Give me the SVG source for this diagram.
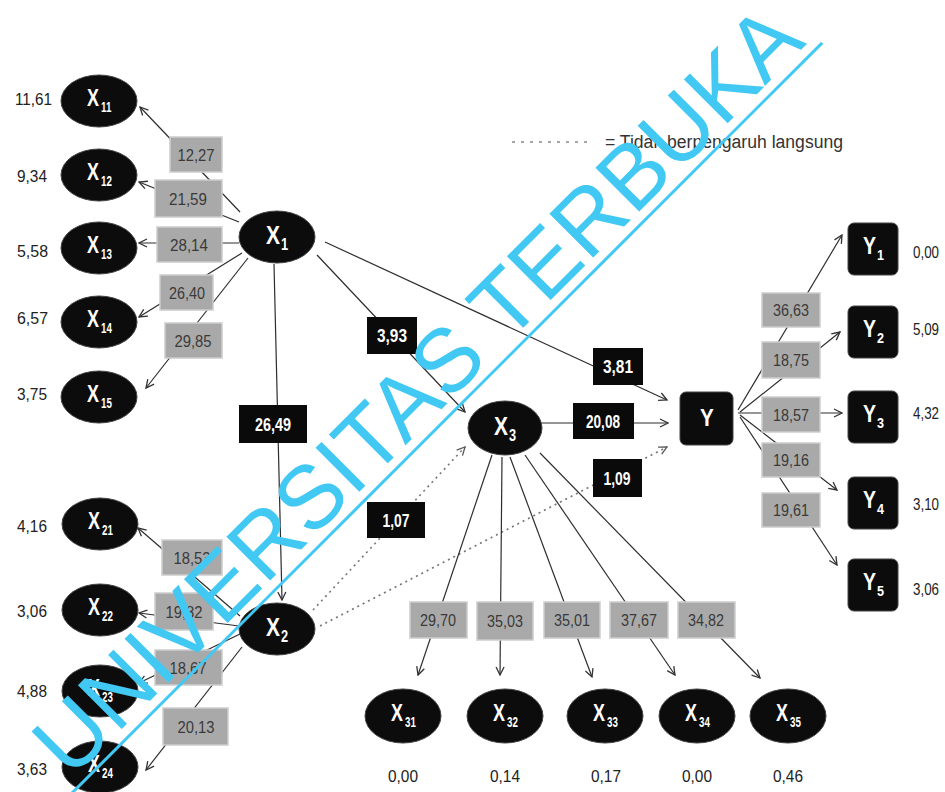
<svg xmlns="http://www.w3.org/2000/svg" width="945" height="792" viewBox="0 0 945 792">
  <defs>
    <marker id="arr" viewBox="0 0 10 10" refX="9" refY="5" markerWidth="10" markerHeight="10" markerUnits="userSpaceOnUse" orient="auto">
      <path d="M1,1 L9,5 L1,9" fill="none" stroke="#333" stroke-width="1.3"/>
    </marker>
    <marker id="arrd" viewBox="0 0 10 10" refX="9" refY="5" markerWidth="10" markerHeight="10" markerUnits="userSpaceOnUse" orient="auto">
      <path d="M1,1 L9,5 L1,9" fill="none" stroke="#555" stroke-width="1.3"/>
    </marker>
    <style>
      .edge { stroke: #2e2e2e; stroke-width: 1.2; fill: none; marker-end: url(#arr); }
      .dot { stroke: #777; stroke-width: 1.6; fill: none; stroke-dasharray: 2 4; marker-end: url(#arrd); }
      .ell { fill: #0c0c0c; stroke: #444; stroke-width: 1; }
      .sq { fill: #0c0c0c; stroke: #444; stroke-width: 1; }
      text { font-family: "Liberation Sans", Arial, sans-serif; }
      .nm { font-weight: bold; fill: #fff; font-size: 23px; }
      .nb { font-weight: bold; fill: #fff; font-size: 25px; }
      .sb { font-weight: bold; fill: #fff; font-size: 14px; }
      .sl { font-weight: bold; fill: #fff; font-size: 16px; }
      .val { font-size: 16px; fill: #222; }
      .gb { fill: #a9a9a9; stroke: #cdcdcd; stroke-width: 1.5; }
      .gt { font-size: 17px; fill: #3a3a3a; text-anchor: middle; }
      .bb { fill: #0a0a0a; }
      .bt { font-size: 19px; font-weight: bold; fill: #fff; text-anchor: middle; }
      .leg { font-size: 18px; fill: #333; }
      .wm { font-size: 90px; fill: #41c9f4; text-anchor: middle; }
    </style>
  </defs>
  <rect width="945" height="792" fill="#fff"/>

  <!-- legend -->
  <g id="legend">
    <line x1="512" y1="142" x2="590" y2="142" stroke="#888" stroke-width="1.5" stroke-dasharray="3 6"/>
    <text class="leg" x="605" y="148" textLength="238" lengthAdjust="spacingAndGlyphs">= Tidak berpengaruh langsung</text>
  </g>

  <!-- connectors -->
  <g id="connectors">
    <line class="edge" x1="240" y1="212" x2="140" y2="107"/>
    <line class="edge" x1="239" y1="222" x2="139" y2="182"/>
    <line class="edge" x1="239" y1="243" x2="139" y2="243"/>
    <line class="edge" x1="242" y1="253" x2="139" y2="317"/>
    <line class="edge" x1="248" y1="258" x2="146" y2="388"/>
    <line class="edge" x1="274" y1="264" x2="282" y2="600"/>
    <line class="edge" x1="317" y1="255" x2="465" y2="412"/>
    <line class="edge" x1="325" y1="242" x2="667" y2="400"/>
    <line class="edge" x1="240" y1="616" x2="138" y2="528"/>
    <line class="edge" x1="239" y1="626" x2="139" y2="613"/>
    <line class="edge" x1="240" y1="634" x2="139" y2="683"/>
    <line class="edge" x1="242" y1="647" x2="146" y2="770"/>
    <line class="dot" x1="313" y1="610" x2="465" y2="447"/>
    <line class="dot" x1="320" y1="626" x2="667" y2="447"/>
    <line class="edge" x1="542" y1="423" x2="668" y2="423"/>
    <line class="edge" x1="492" y1="455" x2="418" y2="675"/>
    <line class="edge" x1="502" y1="457" x2="500" y2="675"/>
    <line class="edge" x1="510" y1="457" x2="592" y2="677"/>
    <line class="edge" x1="525" y1="455" x2="675" y2="675"/>
    <line class="edge" x1="540" y1="453" x2="760" y2="678"/>
    <line class="edge" x1="738" y1="410" x2="842" y2="235"/>
    <line class="edge" x1="740" y1="412" x2="840" y2="332"/>
    <line class="edge" x1="738" y1="413" x2="842" y2="413"/>
    <line class="edge" x1="740" y1="415" x2="837" y2="490"/>
    <line class="edge" x1="740" y1="417" x2="837" y2="565"/>
  </g>

  <!-- loading labels (grey) -->
  <g id="loadings">
    <rect class="gb" x="170" y="137" width="52" height="35"/><text class="gt" x="196" y="161" textLength="37" lengthAdjust="spacingAndGlyphs">12,27</text>
    <rect class="gb" x="155" y="180" width="67" height="37"/><text class="gt" x="188" y="205" textLength="38" lengthAdjust="spacingAndGlyphs">21,59</text>
    <rect class="gb" x="157" y="227" width="65" height="35"/><text class="gt" x="189" y="251" textLength="38" lengthAdjust="spacingAndGlyphs">28,14</text>
    <rect class="gb" x="160" y="275" width="53" height="35"/><text class="gt" x="187" y="299" textLength="36" lengthAdjust="spacingAndGlyphs">26,40</text>
    <rect class="gb" x="165" y="323" width="57" height="35"/><text class="gt" x="193" y="347" textLength="37" lengthAdjust="spacingAndGlyphs">29,85</text>
    <rect class="gb" x="162" y="540" width="60" height="35"/><text class="gt" x="192" y="564" textLength="37" lengthAdjust="spacingAndGlyphs">18,53</text>
    <rect class="gb" x="155" y="593" width="58" height="37"/><text class="gt" x="184" y="618" textLength="37" lengthAdjust="spacingAndGlyphs">19,82</text>
    <rect class="gb" x="155" y="650" width="67" height="35"/><text class="gt" x="188" y="674" textLength="37" lengthAdjust="spacingAndGlyphs">18,67</text>
    <rect class="gb" x="163" y="708" width="65" height="37"/><text class="gt" x="196" y="733" textLength="37" lengthAdjust="spacingAndGlyphs">20,13</text>
    <rect class="gb" x="410" y="602" width="57" height="36"/><text class="gt" x="438" y="626" textLength="36" lengthAdjust="spacingAndGlyphs">29,70</text>
    <rect class="gb" x="477" y="602" width="56" height="38"/><text class="gt" x="505" y="627" textLength="36" lengthAdjust="spacingAndGlyphs">35,03</text>
    <rect class="gb" x="544" y="602" width="56" height="36"/><text class="gt" x="572" y="626" textLength="36" lengthAdjust="spacingAndGlyphs">35,01</text>
    <rect class="gb" x="610" y="602" width="58" height="36"/><text class="gt" x="639" y="626" textLength="36" lengthAdjust="spacingAndGlyphs">37,67</text>
    <rect class="gb" x="678" y="602" width="57" height="36"/><text class="gt" x="706" y="626" textLength="36" lengthAdjust="spacingAndGlyphs">34,82</text>
    <rect class="gb" x="762" y="293" width="58" height="34"/><text class="gt" x="791" y="316" textLength="36" lengthAdjust="spacingAndGlyphs">36,63</text>
    <rect class="gb" x="762" y="342" width="58" height="36"/><text class="gt" x="791" y="366" textLength="36" lengthAdjust="spacingAndGlyphs">18,75</text>
    <rect class="gb" x="762" y="397" width="58" height="35"/><text class="gt" x="791" y="421" textLength="36" lengthAdjust="spacingAndGlyphs">18,57</text>
    <rect class="gb" x="762" y="443" width="58" height="34"/><text class="gt" x="791" y="466" textLength="36" lengthAdjust="spacingAndGlyphs">19,16</text>
    <rect class="gb" x="762" y="493" width="58" height="34"/><text class="gt" x="791" y="516" textLength="36" lengthAdjust="spacingAndGlyphs">19,61</text>
  </g>

  <!-- path coefficient labels (black) -->
  <g id="paths">
    <rect class="bb" x="239" y="405" width="68" height="38"/><text class="bt" x="273" y="431" textLength="36" lengthAdjust="spacingAndGlyphs">26,49</text>
    <rect class="bb" x="367" y="317" width="50" height="37"/><text class="bt" x="392" y="342" textLength="30" lengthAdjust="spacingAndGlyphs">3,93</text>
    <rect class="bb" x="593" y="348" width="50" height="37"/><text class="bt" x="618" y="373" textLength="30" lengthAdjust="spacingAndGlyphs">3,81</text>
    <rect class="bb" x="573" y="403" width="61" height="36"/><text class="bt" x="603" y="428" textLength="34" lengthAdjust="spacingAndGlyphs">20,08</text>
    <rect class="bb" x="367" y="502" width="58" height="36"/><text class="bt" x="396" y="527" textLength="27" lengthAdjust="spacingAndGlyphs">1,07</text>
    <rect class="bb" x="593" y="459" width="49" height="38"/><text class="bt" x="617" y="485" textLength="27" lengthAdjust="spacingAndGlyphs">1,09</text>
  </g>

  <!-- indicators of X1 -->
  <g id="X11"><ellipse class="ell" cx="99" cy="101" rx="38" ry="26"/><text class="nm" transform="translate(87 106) scale(.78 1)">X</text><text class="sb" transform="translate(101 112) scale(.7 1)">11</text><text class="val" x="15" y="105" textLength="37" lengthAdjust="spacingAndGlyphs">11,61</text></g>
  <g id="X12"><ellipse class="ell" cx="99" cy="175" rx="38" ry="26"/><text class="nm" transform="translate(87 180) scale(.78 1)">X</text><text class="sb" transform="translate(101 186) scale(.7 1)">12</text><text class="val" x="17" y="182" textLength="30" lengthAdjust="spacingAndGlyphs">9,34</text></g>
  <g id="X13"><ellipse class="ell" cx="99" cy="248" rx="38" ry="26"/><text class="nm" transform="translate(87 253) scale(.78 1)">X</text><text class="sb" transform="translate(101 259) scale(.7 1)">13</text><text class="val" x="17" y="257" textLength="31" lengthAdjust="spacingAndGlyphs">5,58</text></g>
  <g id="X14"><ellipse class="ell" cx="99" cy="322" rx="38" ry="26"/><text class="nm" transform="translate(87 327) scale(.78 1)">X</text><text class="sb" transform="translate(101 333) scale(.7 1)">14</text><text class="val" x="17" y="324" textLength="31" lengthAdjust="spacingAndGlyphs">6,57</text></g>
  <g id="X15"><ellipse class="ell" cx="99" cy="397" rx="38" ry="26"/><text class="nm" transform="translate(87 402) scale(.78 1)">X</text><text class="sb" transform="translate(101 408) scale(.7 1)">15</text><text class="val" x="17" y="400" textLength="30" lengthAdjust="spacingAndGlyphs">3,75</text></g>

  <!-- indicators of X2 -->
  <g id="X21"><ellipse class="ell" cx="100" cy="524" rx="38" ry="26"/><text class="nm" transform="translate(88 529) scale(.78 1)">X</text><text class="sb" transform="translate(102 535) scale(.7 1)">21</text><text class="val" x="17" y="532" textLength="30" lengthAdjust="spacingAndGlyphs">4,16</text></g>
  <g id="X22"><ellipse class="ell" cx="100" cy="610" rx="38" ry="26"/><text class="nm" transform="translate(88 615) scale(.78 1)">X</text><text class="sb" transform="translate(102 621) scale(.7 1)">22</text><text class="val" x="17" y="617" textLength="30" lengthAdjust="spacingAndGlyphs">3,06</text></g>
  <g id="X23"><ellipse class="ell" cx="100" cy="691" rx="38" ry="26"/><text class="nm" transform="translate(88 696) scale(.78 1)">X</text><text class="sb" transform="translate(102 702) scale(.7 1)">23</text><text class="val" x="17" y="697" textLength="30" lengthAdjust="spacingAndGlyphs">4,88</text></g>
  <g id="X24"><ellipse class="ell" cx="100" cy="767" rx="38" ry="26"/><text class="nm" transform="translate(88 772) scale(.78 1)">X</text><text class="sb" transform="translate(102 778) scale(.7 1)">24</text><text class="val" x="17" y="775" textLength="30" lengthAdjust="spacingAndGlyphs">3,63</text></g>

  <!-- latent variables -->
  <g id="X1"><ellipse class="ell" cx="277" cy="237" rx="38" ry="26"/><text class="nb" transform="translate(266 244) scale(.84 1)">X</text><text class="sl" transform="translate(281 250) scale(.8 1)">1</text></g>
  <g id="X2"><ellipse class="ell" cx="277" cy="629" rx="38" ry="26"/><text class="nb" transform="translate(266 636) scale(.84 1)">X</text><text class="sl" transform="translate(281 642) scale(.8 1)">2</text></g>
  <g id="X3"><ellipse class="ell" cx="505" cy="428" rx="37" ry="27"/><text class="nb" transform="translate(494 435) scale(.84 1)">X</text><text class="sl" transform="translate(509 441) scale(.8 1)">3</text></g>
  <g id="Y"><rect class="sq" x="680" y="392" width="53" height="53" rx="6"/><text class="nm" text-anchor="middle" transform="translate(707 426) scale(.9 1)">Y</text></g>

  <!-- indicators of X3 -->
  <g id="X31"><ellipse class="ell" cx="403" cy="716" rx="38" ry="27"/><text class="nm" transform="translate(391 721) scale(.78 1)">X</text><text class="sb" transform="translate(405 727) scale(.7 1)">31</text><text class="val" x="403" y="782" text-anchor="middle" textLength="30" lengthAdjust="spacingAndGlyphs">0,00</text></g>
  <g id="X32"><ellipse class="ell" cx="505" cy="716" rx="38" ry="27"/><text class="nm" transform="translate(493 721) scale(.78 1)">X</text><text class="sb" transform="translate(507 727) scale(.7 1)">32</text><text class="val" x="505" y="782" text-anchor="middle" textLength="30" lengthAdjust="spacingAndGlyphs">0,14</text></g>
  <g id="X33"><ellipse class="ell" cx="605" cy="716" rx="38" ry="27"/><text class="nm" transform="translate(593 721) scale(.78 1)">X</text><text class="sb" transform="translate(607 727) scale(.7 1)">33</text><text class="val" x="606" y="782" text-anchor="middle" textLength="30" lengthAdjust="spacingAndGlyphs">0,17</text></g>
  <g id="X34"><ellipse class="ell" cx="697" cy="716" rx="38" ry="27"/><text class="nm" transform="translate(685 721) scale(.78 1)">X</text><text class="sb" transform="translate(699 727) scale(.7 1)">34</text><text class="val" x="697" y="782" text-anchor="middle" textLength="30" lengthAdjust="spacingAndGlyphs">0,00</text></g>
  <g id="X35"><ellipse class="ell" cx="788" cy="716" rx="38" ry="27"/><text class="nm" transform="translate(776 721) scale(.78 1)">X</text><text class="sb" transform="translate(790 727) scale(.7 1)">35</text><text class="val" x="788" y="782" text-anchor="middle" textLength="30" lengthAdjust="spacingAndGlyphs">0,46</text></g>

  <!-- indicators of Y -->
  <g id="Y1"><rect class="sq" x="848" y="223" width="50" height="52" rx="6"/><text class="nm" transform="translate(863 254) scale(.85 1)">Y</text><text class="sb" transform="translate(877 260) scale(.9 1)">1</text><text class="val" x="913" y="258" textLength="26" lengthAdjust="spacingAndGlyphs">0,00</text></g>
  <g id="Y2"><rect class="sq" x="848" y="306" width="50" height="52" rx="6"/><text class="nm" transform="translate(863 337) scale(.85 1)">Y</text><text class="sb" transform="translate(877 343) scale(.9 1)">2</text><text class="val" x="913" y="335" textLength="26" lengthAdjust="spacingAndGlyphs">5,09</text></g>
  <g id="Y3"><rect class="sq" x="848" y="391" width="50" height="52" rx="6"/><text class="nm" transform="translate(863 422) scale(.85 1)">Y</text><text class="sb" transform="translate(877 428) scale(.9 1)">3</text><text class="val" x="913" y="419" textLength="26" lengthAdjust="spacingAndGlyphs">4,32</text></g>
  <g id="Y4"><rect class="sq" x="848" y="477" width="50" height="52" rx="6"/><text class="nm" transform="translate(863 508) scale(.85 1)">Y</text><text class="sb" transform="translate(877 514) scale(.9 1)">4</text><text class="val" x="913" y="510" textLength="26" lengthAdjust="spacingAndGlyphs">3,10</text></g>
  <g id="Y5"><rect class="sq" x="848" y="559" width="50" height="52" rx="6"/><text class="nm" transform="translate(863 590) scale(.85 1)">Y</text><text class="sb" transform="translate(877 596) scale(.9 1)">5</text><text class="val" x="913" y="595" textLength="26" lengthAdjust="spacingAndGlyphs">3,06</text></g>

  <!-- watermark -->
  <g id="watermark" transform="translate(446 419) rotate(-45)">
    <text class="wm" x="0" y="-10">UNIVERSITAS TERBUKA</text>
    <line x1="-530" y1="0" x2="532" y2="0" stroke="#41c9f4" stroke-width="3"/>
  </g>
</svg>
